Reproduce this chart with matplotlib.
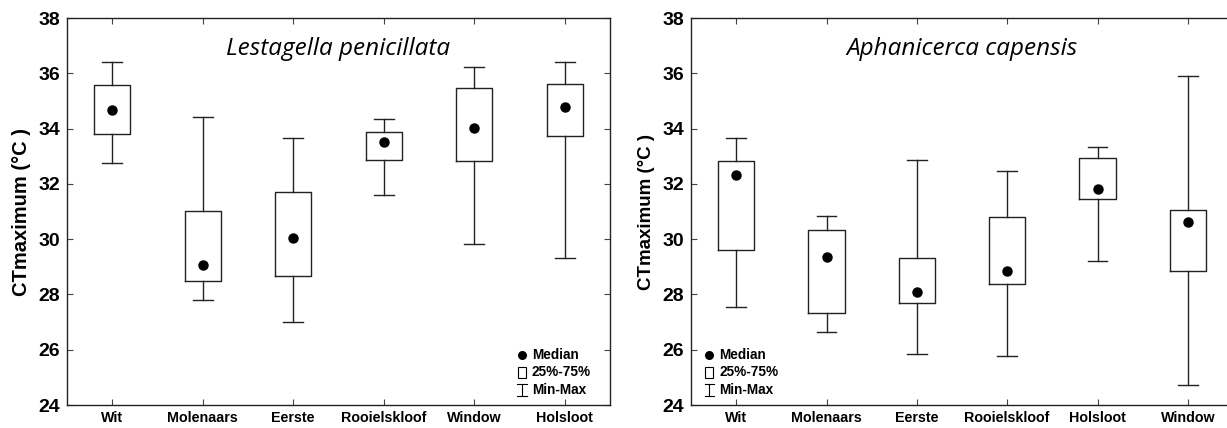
import matplotlib
matplotlib.use("Agg")
import matplotlib.pyplot as plt

plt.rcParams['font.family'] = ['Liberation Sans', 'DejaVu Sans']

# Lestagella penicillata
sites_left = ['Wit', 'Molenaars', 'Eerste', 'Rooielskloof', 'Window', 'Holsloot']
min_left = [32.77, 27.80, 27.01, 31.59, 29.84, 29.33]
q1_left = [33.81, 28.48, 28.67, 32.86, 32.82, 33.73]
med_left = [34.66, 29.05, 30.05, 33.52, 34.03, 34.77]
q3_left = [35.59, 31.01, 31.69, 33.86, 35.48, 35.63]
max_left = [36.41, 34.42, 33.66, 34.34, 36.21, 36.41]

# Aphanicerca capensis
sites_right = ['Wit', 'Molenaars', 'Eerste', 'Rooielskloof', 'Holsloot', 'Window']
min_right = [27.56, 26.64, 25.83, 25.79, 29.20, 24.71]
q1_right = [29.62, 27.34, 27.69, 28.36, 31.47, 28.85]
med_right = [32.33, 29.35, 28.08, 28.85, 31.83, 30.63]
q3_right = [32.81, 30.32, 29.31, 30.81, 32.93, 31.04]
max_right = [33.66, 30.83, 32.85, 32.45, 33.33, 35.91]

yticks = [24, 26, 28, 30, 32, 34, 36, 38]


def draw_panel(ax, sites, lo, q1, med, q3, hi, title, legend_x, ylabel_size):
    stats = []
    for i in range(len(sites)):
        stats.append(dict(whislo=lo[i], q1=q1[i], med=med[i], q3=q3[i], whishi=hi[i]))
    pos = list(range(1, len(sites) + 1))
    lc = '#222222'
    ax.bxp(stats, positions=pos, widths=0.4, capwidths=0.22, showfliers=False,
           boxprops=dict(color=lc, linewidth=1.0),
           whiskerprops=dict(color=lc, linewidth=1.0),
           capprops=dict(color=lc, linewidth=1.0),
           medianprops=dict(linewidth=0))
    ax.plot(pos, med, 'o', color='black', markersize=6.5, zorder=5)

    ax.set_xlim(0.5, len(sites) + 0.5)
    ax.set_ylim(24, 38)
    ax.set_yticks(yticks)
    ax.set_xticks(pos)
    ax.set_xticklabels(sites, fontsize=10.3, fontweight='bold')
    ax.set_yticklabels([str(v) for v in yticks], fontsize=14, fontweight='bold')
    ax.tick_params(direction='in', top=True, right=True, length=4, width=0.8, color='#444444')
    ax.tick_params(axis='x', pad=4)
    ax.tick_params(axis='y', pad=5)
    for s in ax.spines.values():
        s.set_linewidth(1.0)
        s.set_color('#222222')
    ax.set_ylabel('CTmaximum (°C )', fontsize=ylabel_size, fontweight='bold', labelpad=5)
    ax.text(0.5, 0.92, title, transform=ax.transAxes, ha='center', va='center',
            fontsize=17.5, style='italic', family='Open Sans')

    # legend (drawn by hand, like the original)
    ys = [0.128, 0.084, 0.038]
    tx = legend_x + 0.018
    ax.plot([legend_x], [ys[0]], 'o', color='black', markersize=5.5, transform=ax.transAxes, clip_on=False)
    ax.add_patch(plt.Rectangle((legend_x - 0.0075, ys[1] - 0.015), 0.015, 0.03, transform=ax.transAxes,
                               fill=False, edgecolor='black', linewidth=0.8))
    ax.plot([legend_x, legend_x], [ys[2] - 0.016, ys[2] + 0.016], color='black', linewidth=0.8,
            transform=ax.transAxes)
    ax.plot([legend_x - 0.009, legend_x + 0.009], [ys[2] + 0.016] * 2, color='black', linewidth=0.8,
            transform=ax.transAxes)
    ax.plot([legend_x - 0.009, legend_x + 0.009], [ys[2] - 0.016] * 2, color='black', linewidth=0.8,
            transform=ax.transAxes)
    for y, lab in zip(ys, ['Median', '25%-75%', 'Min-Max']):
        ax.text(tx, y, lab, transform=ax.transAxes, ha='left', va='center',
                fontsize=9.8, fontweight='bold')


fig = plt.figure(figsize=(12.27, 4.28), dpi=100)
ax1 = fig.add_axes([67 / 1227, 23 / 428, 543 / 1227, 387 / 428])
ax2 = fig.add_axes([691 / 1227, 23 / 428, 542 / 1227, 387 / 428])

draw_panel(ax1, sites_left, min_left, q1_left, med_left, q3_left, max_left,
           'Lestagella penicillata', 0.838, 14.5)
draw_panel(ax2, sites_right, min_right, q1_right, med_right, q3_right, max_right,
           'Aphanicerca capensis', 0.034, 13.5)

fig.savefig('out.png', dpi=100)
